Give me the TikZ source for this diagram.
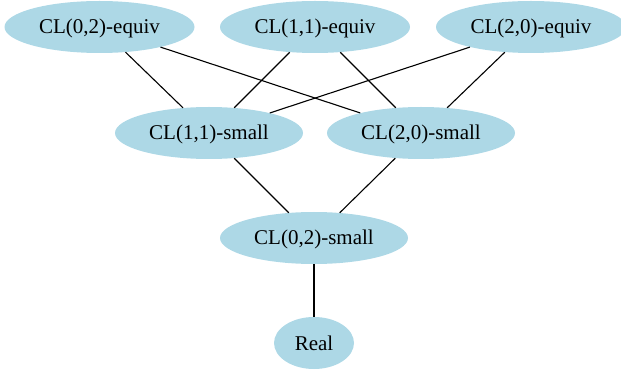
\documentclass[tikz,border=0pt]{standalone}
\usepackage{fontspec}
\setmainfont{Liberation Serif}
\usetikzlibrary{shapes.geometric}
\definecolor{lblue}{HTML}{ADD8E6}

\begin{document}
\begin{tikzpicture}[x=1pt,y=-1pt,
  cl/.style={ellipse,fill=lblue,inner sep=0pt,minimum width=190pt,minimum height=52pt,
             text height=16pt,text depth=2pt,font=\fontsize{21}{25}\selectfont},
  edge/.style={draw,line width=1.1pt}]
\useasboundingbox (0,0) rectangle (621,371);
% Nodes
\node[cl] (eq02) at (99.5,27) {CL(0,2)-equiv};
\node[cl] (eq11) at (315,27)  {CL(1,1)-equiv};
\node[cl] (eq20) at (531,27)  {CL(2,0)-equiv};
\node[cl,minimum width=188pt] (sm11) at (209,133) {CL(1,1)-small};
\node[cl,minimum width=188pt] (sm20) at (421,133) {CL(2,0)-small};
\node[cl,minimum width=188pt] (sm02) at (314,238) {CL(0,2)-small};
\node[cl,minimum width=80pt]  (real) at (314,343) {Real};
% Edges
\path[edge] (eq02) -- (sm11);
\path[edge] (eq02) -- (sm20);
\path[edge] (eq11) -- (sm11);
\path[edge] (eq11) -- (sm20);
\path[edge] (eq20) -- (sm11);
\path[edge] (eq20) -- (sm20);
\path[edge] (sm11) -- (sm02);
\path[edge] (sm20) -- (sm02);
\path[edge] (sm02) -- (real);
\end{tikzpicture}
\end{document}
